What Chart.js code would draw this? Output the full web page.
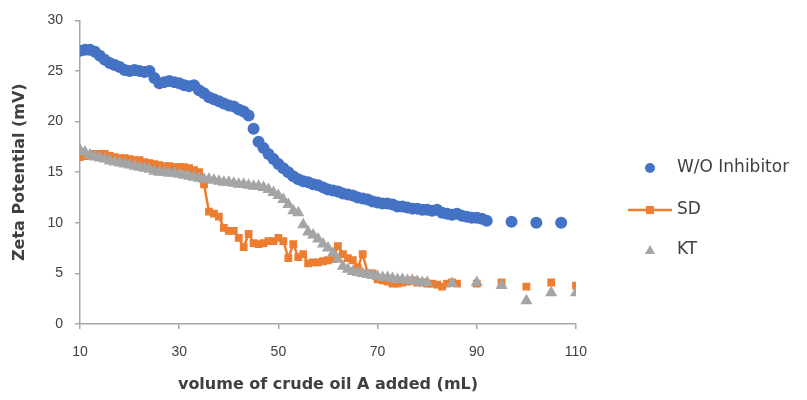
<!DOCTYPE html>
<html>
<head>
<meta charset="utf-8">
<script src="https://cdn.jsdelivr.net/npm/chart.js@4.4.0/dist/chart.umd.min.js"></script>
<style>
html, body { margin: 0; padding: 0; background: #fff; }
</style>
</head>
<body>
<canvas id="zeta_chart" width="807" height="400"></canvas>
<script>
// volume of crude oil A added (mL) vs zeta potential (mV)
const woX = [10, 11, 12, 13, 14, 15, 16, 17, 18, 19, 20, 21, 22, 23, 24, 25, 26, 27, 28, 29,
    30, 31, 32, 33, 34, 35, 36, 37, 38, 39, 40, 41, 42, 43, 44, 45, 46, 47, 48, 49,
    50, 51, 52, 53, 54, 55, 56, 57, 58, 59, 60, 61, 62, 63, 64, 65, 66, 67, 68, 69,
    70, 71, 72, 73, 74, 75, 76, 77, 78, 79, 80, 81, 82, 83, 84, 85, 86, 87, 88, 89,
    90, 91, 92, 97, 102, 107];
const woY = [27.0, 27.1, 27.1, 26.9, 26.5, 26.1, 25.8, 25.6, 25.4, 25.1, 25.0, 25.1, 25.0, 24.9, 25.0, 24.3, 23.8, 23.9, 24.0, 23.9,
    23.8, 23.6, 23.5, 23.6, 23.1, 22.8, 22.4, 22.2, 22.0, 21.8, 21.6, 21.5, 21.2, 21.0, 20.6, 19.3, 18.0, 17.4, 16.8, 16.3,
    15.8, 15.4, 15.0, 14.6, 14.3, 14.1, 14.0, 13.8, 13.7, 13.5, 13.3, 13.2, 13.1, 12.9, 12.8, 12.7, 12.5, 12.4, 12.3, 12.1,
    12.0, 11.9, 11.9, 11.8, 11.6, 11.6, 11.5, 11.4, 11.4, 11.3, 11.3, 11.2, 11.3, 11.0, 10.9, 10.8, 10.9, 10.7, 10.6, 10.5,
    10.5, 10.4, 10.2, 10.1, 10.0, 10.0];

const sdX = [10, 11, 12, 13, 14, 15, 16, 17, 18, 19, 20, 21, 22, 23, 24, 25, 26, 27, 28, 29,
    30, 31, 32, 33, 34, 35, 36, 37, 38, 39, 40, 41, 42, 43, 44, 45, 46, 47, 48, 49,
    50, 51, 52, 53, 54, 55, 56, 57, 58, 59, 60, 61, 62, 63, 64, 65, 66, 67, 68, 69,
    70, 71, 72, 73, 74, 75, 76, 77, 78, 79, 80, 81, 82, 83, 84, 85, 86, 90, 95, 100, 105, 110];
const sdY = [16.5, 16.6, 16.7, 16.8, 16.8, 16.8, 16.6, 16.5, 16.4, 16.4, 16.3, 16.2, 16.2, 16.0, 15.9, 15.8, 15.7, 15.6, 15.6, 15.5,
    15.5, 15.5, 15.4, 15.2, 15.0, 13.8, 11.1, 10.9, 10.6, 9.5, 9.2, 9.2, 8.5, 7.6, 8.9, 8.0, 7.9, 8.0, 8.2, 8.2,
    8.5, 8.2, 6.5, 7.9, 6.6, 6.9, 6.0, 6.1, 6.1, 6.2, 6.3, 6.4, 7.7, 6.9, 6.5, 6.3, 5.6, 6.9, 5.0, 5.0,
    4.4, 4.3, 4.2, 4.0, 4.0, 4.1, 4.2, 4.3, 4.1, 4.1, 4.0, 4.0, 3.9, 3.7, 4.0, 4.1, 4.0, 4.0, 4.1, 3.7, 4.1, 3.8];

const ktX = [10, 11, 12, 13, 14, 15, 16, 17, 18, 19, 20, 21, 22, 23, 24, 25, 26, 27, 28, 29,
    30, 31, 32, 33, 34, 35, 36, 37, 38, 39, 40, 41, 42, 43, 44, 45, 46, 47, 48, 49,
    50, 51, 52, 53, 54, 55, 56, 57, 58, 59, 60, 61, 62, 63, 64, 65, 66, 67, 68, 69,
    70, 71, 72, 73, 74, 75, 76, 77, 78, 79, 80, 85, 90, 95, 100, 105, 110];
const ktY = [17.2, 17.0, 16.7, 16.5, 16.4, 16.3, 16.1, 16.0, 15.9, 15.8, 15.7, 15.6, 15.5, 15.4, 15.3, 15.1, 15.0, 15.0, 14.9, 14.9,
    14.8, 14.7, 14.6, 14.5, 14.4, 14.3, 14.3, 14.2, 14.1, 14.0, 14.0, 13.9, 13.8, 13.8, 13.7, 13.6, 13.6, 13.5, 13.3, 13.0,
    12.7, 12.3, 11.8, 11.2, 11.0, 9.8, 9.1, 8.8, 8.4, 7.9, 7.5, 7.0, 6.4, 5.7, 5.4, 5.2, 5.1, 5.0, 4.9, 4.8,
    4.7, 4.6, 4.6, 4.5, 4.4, 4.4, 4.3, 4.3, 4.2, 4.1, 4.1, 4.0, 4.1, 3.8, 2.3, 3.1, 3.1];

const xTicks = [10, 30, 50, 70, 90, 110];
const yTicks = [0, 5, 10, 15, 20, 25, 30];
const seriesNames = ["W/O Inhibitor", "SD", "KT"];

const BLUE = "#4472C4", ORANGE = "#ED7D31", GREY = "#A5A5A5";
const AXIS = "#a6a6a6", TEXT = "#404040";
const TICK_FONT = { family: "'Liberation Sans', Arial, sans-serif", size: 14 };
const TITLE_FONT = { family: "'DejaVu Sans', sans-serif", size: 16, weight: "bold" };

function pairs(xs, ys) {
    return xs.map(function (x, i) { return { x: x, y: ys[i] }; });
}

// legend drawn at the right side, like the Excel original
const sideLegend = {
    id: "sideLegend",
    afterDraw: function (chart) {
        const ctx = chart.ctx;
        const mx = 650, tx = 677, rows = [168, 210, 250];
        ctx.save();
        ctx.textBaseline = "middle";

        // W/O Inhibitor
        ctx.beginPath();
        ctx.fillStyle = BLUE;
        ctx.arc(mx, rows[0], 5, 0, Math.PI * 2);
        ctx.fill();

        // SD
        ctx.strokeStyle = ORANGE;
        ctx.lineWidth = 2.5;
        ctx.beginPath();
        ctx.moveTo(628, rows[1]);
        ctx.lineTo(672, rows[1]);
        ctx.stroke();
        ctx.fillStyle = ORANGE;
        ctx.fillRect(mx - 4, rows[1] - 4, 8, 8);

        // KT
        ctx.fillStyle = GREY;
        ctx.beginPath();
        ctx.moveTo(mx, rows[2] - 5);
        ctx.lineTo(mx + 5, rows[2] + 4);
        ctx.lineTo(mx - 5, rows[2] + 4);
        ctx.closePath();
        ctx.fill();

        ctx.font = "17px 'DejaVu Sans', sans-serif";
        ctx.fillStyle = TEXT;
        seriesNames.forEach(function (name, i) {
            ctx.fillText(name, tx, rows[i]);
        });
        ctx.restore();
    }
};

let chart = new Chart(document.getElementById("zeta_chart").getContext("2d"), {
    type: "scatter",
    data: {
        datasets: [{
            label: seriesNames[0],
            data: pairs(woX, woY),
            backgroundColor: BLUE,
            borderColor: BLUE,
            pointStyle: "circle",
            pointRadius: 6,
            pointBorderWidth: 0,
            order: 2
        }, {
            label: seriesNames[1],
            data: pairs(sdX, sdY),
            showLine: true,
            backgroundColor: ORANGE,
            borderColor: ORANGE,
            borderWidth: 2.5,
            pointStyle: "rect",
            pointRadius: 5.5,
            pointBorderWidth: 0,
            segment: {
                // sparse readings at the end are not joined
                borderColor: function (c) {
                    return c.p1.parsed.x - c.p0.parsed.x > 2 ? "rgba(0,0,0,0)" : ORANGE;
                }
            },
            order: 1
        }, {
            label: seriesNames[2],
            data: pairs(ktX, ktY),
            backgroundColor: GREY,
            borderColor: GREY,
            pointStyle: "triangle",
            pointRadius: 7,
            pointBorderWidth: 0,
            order: 0
        }]
    },
    options: {
        responsive: false,
        animation: false,
        layout: {
            padding: { top: 17, right: 231, left: 0, bottom: 0 }
        },
        plugins: {
            legend: { display: false },
            tooltip: { enabled: false }
        },
        scales: {
            x: {
                type: "linear",
                min: 10,
                max: 110,
                afterFit: function (s) { s.height = 76; },
                afterBuildTicks: function (s) { s.ticks = xTicks.map(function (v) { return { value: v }; }); },
                grid: { drawOnChartArea: false, color: AXIS, tickLength: 5, lineWidth: 1.5 },
                border: { color: AXIS, width: 1.5 },
                ticks: { padding: 15, color: TEXT, font: TICK_FONT },
                title: {
                    display: true,
                    text: "volume of crude oil A added (mL)",
                    color: TEXT,
                    padding: { top: 0, bottom: 6 },
                    font: TITLE_FONT
                }
            },
            y: {
                min: 0,
                max: 30,
                afterFit: function (s) { s.width = 80; },
                afterBuildTicks: function (s) { s.ticks = yTicks.map(function (v) { return { value: v }; }); },
                grid: { drawOnChartArea: false, color: AXIS, tickLength: 5, lineWidth: 1.5 },
                border: { color: AXIS, width: 1.5 },
                ticks: { padding: 12, color: TEXT, font: TICK_FONT },
                title: {
                    display: true,
                    text: "Zeta Potential (mV)",
                    color: TEXT,
                    padding: { top: 10, bottom: 0 },
                    font: TITLE_FONT
                }
            }
        }
    },
    plugins: [sideLegend]
});
</script>
</body>
</html>
